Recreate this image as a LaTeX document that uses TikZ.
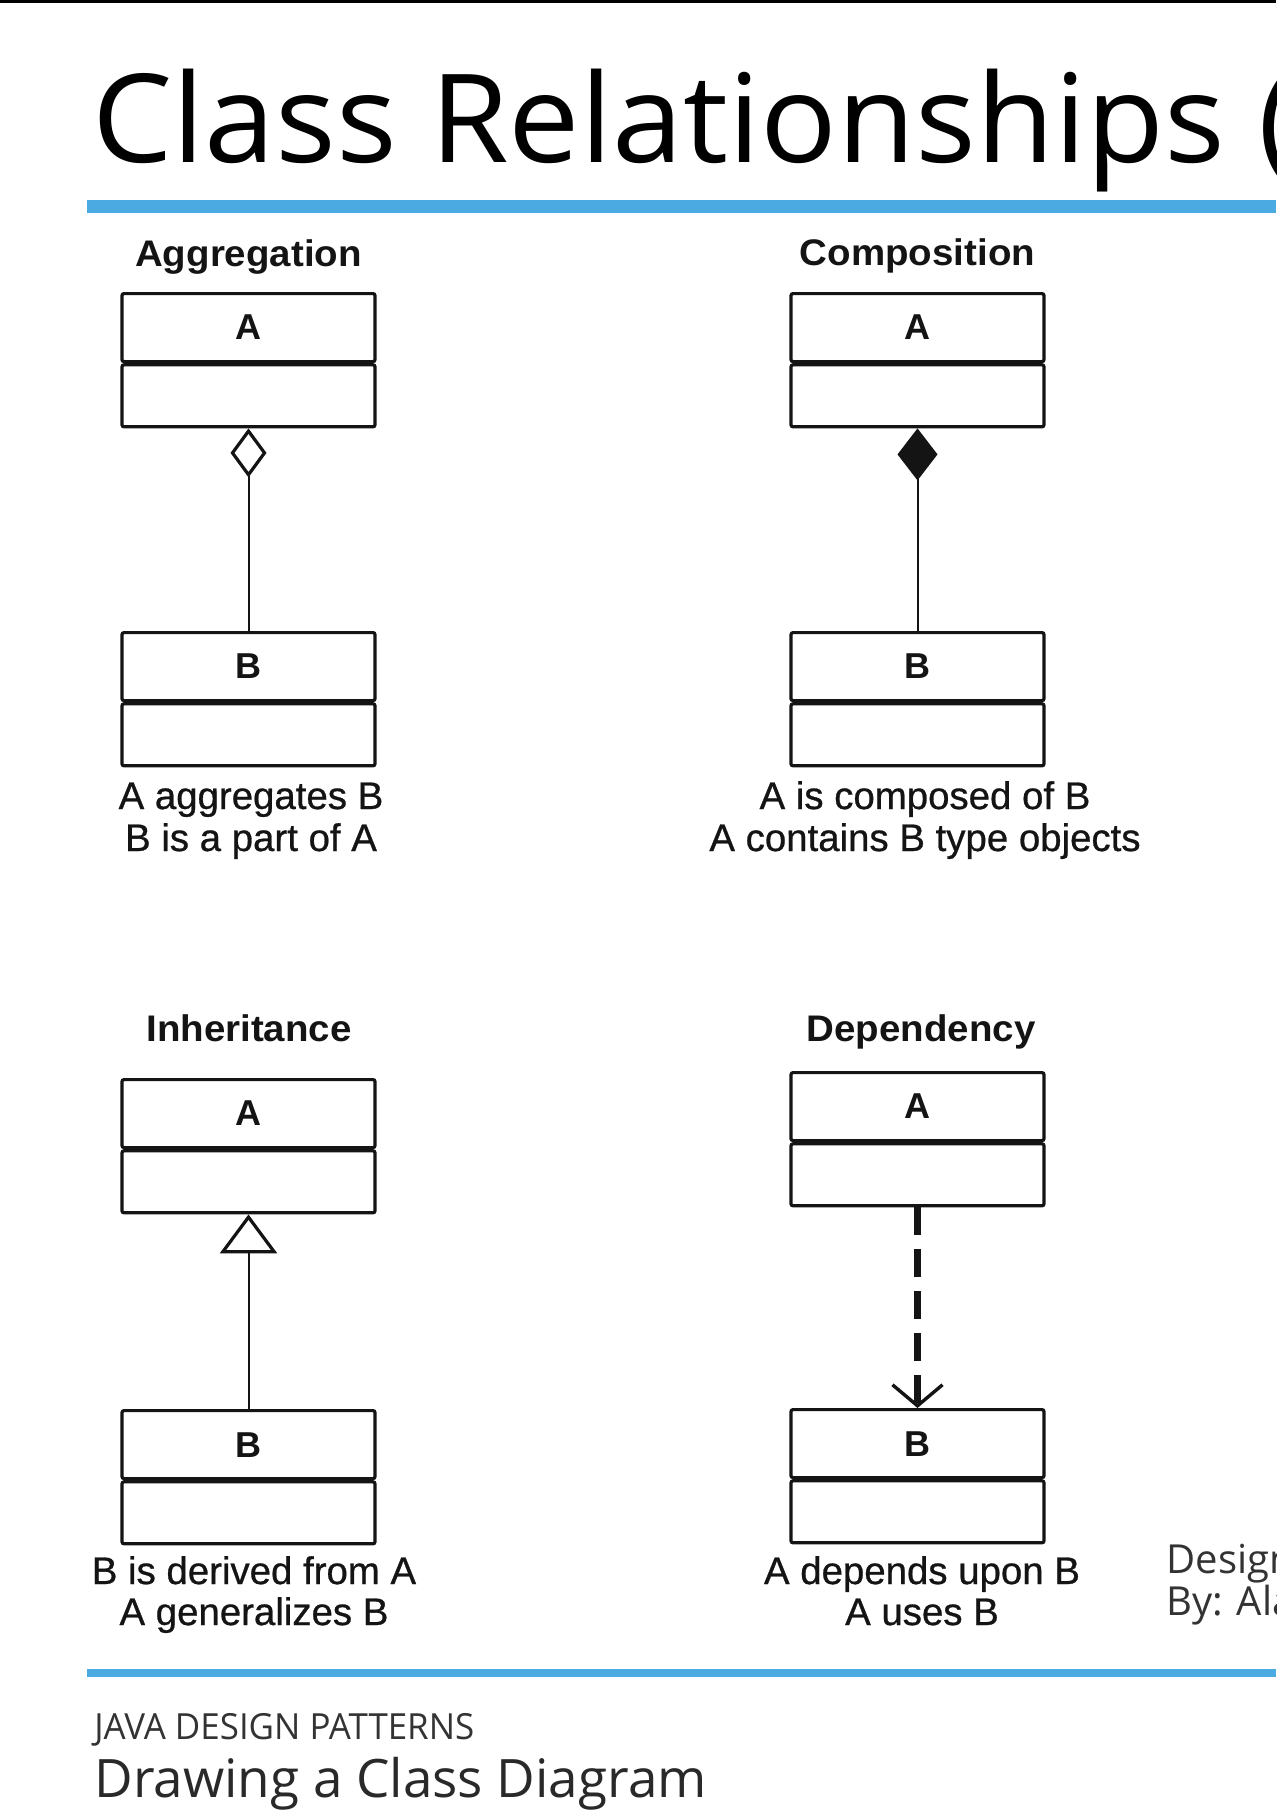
\documentclass[tikz,border=0pt]{standalone}
\usepackage{fontspec}
\setmainfont{Liberation Sans}
\newfontfamily\titlefont{Open Sans}
\newfontfamily\bigtitlefont[FakeStretch=1.035]{Open Sans}
\newfontfamily\condfont[FakeStretch=0.97]{Open Sans}
\newfontfamily\captfont[FakeBold=0.7]{Liberation Sans}
\newfontfamily\headfont[FakeStretch=1.04]{Liberation Sans}
\usetikzlibrary{arrows.meta}
\definecolor{rulebl}{RGB}{76,170,226}
\definecolor{footgray}{RGB}{51,51,51}
\definecolor{ink}{RGB}{20,20,20}
\begin{document}
\begin{tikzpicture}[x=0.5pt,y=-0.5pt,
  cls/.style={draw=ink, line width=1.6pt, rectangle, rounded corners=1pt,
    minimum width=126.5pt, minimum height=34pt, inner sep=0pt, anchor=north,
    text=ink, font=\fontsize{18}{20}\selectfont\bfseries},
  attr/.style={draw=ink, line width=1.6pt, rectangle, rounded corners=1pt,
    minimum width=126.5pt, minimum height=31pt, inner sep=0pt, anchor=north},
  head/.style={anchor=base, inner sep=0pt, text=ink,
    font=\headfont\fontsize{18.5}{21}\selectfont\bfseries},
  capt/.style={anchor=base, inner sep=0pt, text=ink,
    font=\captfont\fontsize{19.2}{22}\selectfont},
  link/.style={draw=ink, line width=1pt},
  deplink/.style={draw=ink, line width=3.5pt, dash pattern=on 14pt off 7pt}
]
\useasboundingbox (0,0) rectangle (1276,1816);
\fill[white] (0,0) rectangle (1276,1816);
\fill[black] (0,0) rectangle (1276,3);

% title
\node[anchor=base west, inner sep=0pt, text=black,
  font=\bigtitlefont\fontsize{61.5}{70}\selectfont] (title) at (92,162) {Class Relationships (};
\fill[rulebl] (87,200) rectangle (1276,213);

% ---------- Aggregation ----------
\node[head] (hagg) at (248.5,266) {Aggregation};
\node[cls] (aggA) at (248.5,292) {A};
\node[attr] (aggAattr) at (aggA.south) {};
\node[cls] (aggB) at (248.5,631) {B};
\node[attr] (aggBattr) at (aggB.south) {};
\draw[link, {Diamond[open, length=24.5pt, width=18pt, line width=1.6pt]}-] (aggAattr.south) -- (aggB.north);
\node[capt] (capagg1) at (251,809) {A aggregates B};
\node[capt] (capagg2) at (251,851) {B is a part of A};

% ---------- Composition ----------
\node[head] (hcom) at (917.5,265) {Composition};
\node[cls] (comA) at (917.5,292) {A};
\node[attr] (comAattr) at (comA.south) {};
\node[cls] (comB) at (917.5,631) {B};
\node[attr] (comBattr) at (comB.south) {};
\draw[link, {Diamond[length=26pt, width=20pt]}-] (comAattr.south) -- (comB.north);
\node[capt] (capcom1) at (925,809) {A is composed of B};
\node[capt] (capcom2) at (925,851) {A contains B type objects};

% ---------- Inheritance ----------
\node[head] (hinh) at (249,1041) {Inheritance};
\node[cls] (inhA) at (248.5,1078) {A};
\node[attr] (inhAattr) at (inhA.south) {};
\node[cls] (inhB) at (248.5,1409) {B};
\node[attr] (inhBattr) at (inhB.south) {};
\draw[link, {Triangle[open, length=19.5pt, width=28.5pt, line width=1.6pt]}-] (inhAattr.south) -- (inhB.north);
\node[capt] (capinh1) at (254,1584) {B is derived from A};
\node[capt] (capinh2) at (254,1625) {A generalizes B};

% ---------- Dependency ----------
\node[head] (hdep) at (921,1041) {Dependency};
\node[cls] (depA) at (917.5,1071) {A};
\node[attr] (depAattr) at (depA.south) {};
\node[cls] (depB) at (917.5,1408) {B};
\node[attr] (depBattr) at (depB.south) {};
\draw[deplink, -{Straight Barb[length=10.5pt, width=25pt, line width=1.7pt]}] (depAattr.south) -- (depB.north);
\node[capt] (capdep1) at (922,1584) {A depends upon B};
\node[capt] (capdep2) at (922,1625) {A uses B};

% side note (cut by the right edge, as in the source slide)
\node[anchor=base west, inner sep=0pt, text=footgray,
  font=\titlefont\fontsize{20}{24}\selectfont] (design) at (1166,1573) {Design};
\node[anchor=base west, inner sep=0pt, text=footgray,
  font=\titlefont\fontsize{20}{24}\selectfont] (byline) at (1166,1615) {By: Ala};

% footer
\fill[rulebl] (87,1669) rectangle (1276,1677);
\node[anchor=base west, inner sep=0pt, text=footgray,
  font=\condfont\fontsize{18}{22}\selectfont] (series) at (94,1739) {JAVA DESIGN PATTERNS};
\node[anchor=base west, inner sep=0pt, text=footgray!80!black,
  font=\titlefont\fontsize{26.5}{30}\selectfont] (course) at (94,1797) {Drawing a Class Diagram};
\end{tikzpicture}
\end{document}
